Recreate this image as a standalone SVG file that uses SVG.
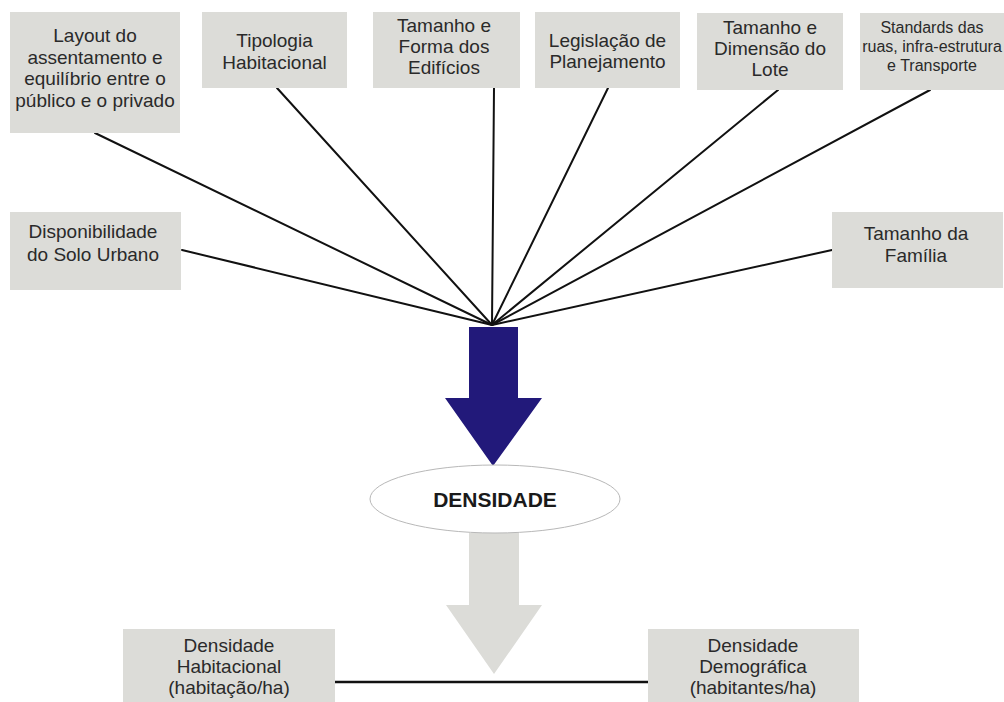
<svg xmlns="http://www.w3.org/2000/svg" width="1004" height="702" viewBox="0 0 1004 702">
<style>
.box{fill:#dcdcd8;}
.t{font-family:"Liberation Sans",Arial,sans-serif;font-size:19px;fill:#2a2a2a;text-anchor:middle;}
.s{font-size:16px;}
.c{stroke:#111;stroke-width:2;fill:none;stroke-linecap:round;}
</style>
<rect width="1004" height="702" fill="#fff"/>
<g id="connectors">
<line class="c" x1="95" y1="133" x2="492" y2="325"/>
<line class="c" x1="277" y1="88" x2="492" y2="325"/>
<line class="c" x1="494" y1="88" x2="492" y2="325"/>
<line class="c" x1="608" y1="88" x2="492" y2="325"/>
<line class="c" x1="778" y1="90" x2="492" y2="325"/>
<line class="c" x1="930" y1="90" x2="492" y2="325"/>
<line class="c" x1="182" y1="250" x2="492" y2="325"/>
<line class="c" x1="832" y1="250" x2="492" y2="325"/>
<line x1="335" y1="682" x2="648" y2="682" stroke="#111" stroke-width="2.5"/>
</g>
<g id="n1"><rect class="box" x="10" y="12" width="170" height="121"/>
<text class="t" x="95"><tspan x="95" y="42">Layout do</tspan><tspan x="95" y="63.5">assentamento e</tspan><tspan x="95" y="85">equilíbrio entre o</tspan><tspan x="95" y="106.5">público e o privado</tspan></text></g>
<g id="n2"><rect class="box" x="202" y="12" width="145" height="76"/>
<text class="t"><tspan x="274.5" y="47">Tipologia</tspan><tspan x="274.5" y="68.5">Habitacional</tspan></text></g>
<g id="n3"><rect class="box" x="373" y="12" width="147" height="76"/>
<text class="t"><tspan x="444" y="32">Tamanho e</tspan><tspan x="444" y="53">Forma dos</tspan><tspan x="444" y="74">Edifícios</tspan></text></g>
<g id="n4"><rect class="box" x="535" y="12" width="145" height="76"/>
<text class="t"><tspan x="607.5" y="47">Legislação de</tspan><tspan x="607.5" y="68">Planejamento</tspan></text></g>
<g id="n5"><rect class="box" x="697" y="13" width="146" height="77"/>
<text class="t"><tspan x="770" y="34">Tamanho e</tspan><tspan x="770" y="55">Dimensão do</tspan><tspan x="770" y="76">Lote</tspan></text></g>
<g id="n6"><rect class="box" x="860" y="13" width="144" height="77"/>
<text class="t s"><tspan x="932" y="33">Standards das</tspan><tspan x="932" y="52">ruas, infra-estrutura</tspan><tspan x="932" y="71">e Transporte</tspan></text></g>
<g id="n7"><rect class="box" x="10" y="212" width="171" height="78"/>
<text class="t"><tspan x="93" y="238">Disponibilidade</tspan><tspan x="93" y="261">do Solo Urbano</tspan></text></g>
<g id="n8"><rect class="box" x="832" y="212" width="171" height="76"/>
<text class="t"><tspan x="916" y="240">Tamanho da</tspan><tspan x="916" y="262">Família</tspan></text></g>
<g id="arrow-blue"><polygon points="469,327 518,327 518,398 542,398 493,466 445,398 469,398" fill="#22197a"/></g>
<g id="arrow-gray"><polygon points="469,533 519,533 519,605 542,605 494,674 446,605 469,605" fill="#dcdcd8"/></g>
<g id="densidade"><ellipse cx="495" cy="499" rx="125" ry="34" fill="#fff" stroke="#b8b8b8" stroke-width="1"/>
<text class="t" x="495" y="507" style="font-weight:bold;font-size:21px;fill:#1a1a1a">DENSIDADE</text></g>
<g id="n9"><rect class="box" x="123" y="629" width="212" height="80"/>
<text class="t"><tspan x="229" y="652">Densidade</tspan><tspan x="229" y="673">Habitacional</tspan><tspan x="229" y="694">(habitação/ha)</tspan></text></g>
<g id="n10"><rect class="box" x="648" y="629" width="211" height="80"/>
<text class="t"><tspan x="753" y="652">Densidade</tspan><tspan x="753" y="673">Demográfica</tspan><tspan x="753" y="694">(habitantes/ha)</tspan></text></g>
</svg>
